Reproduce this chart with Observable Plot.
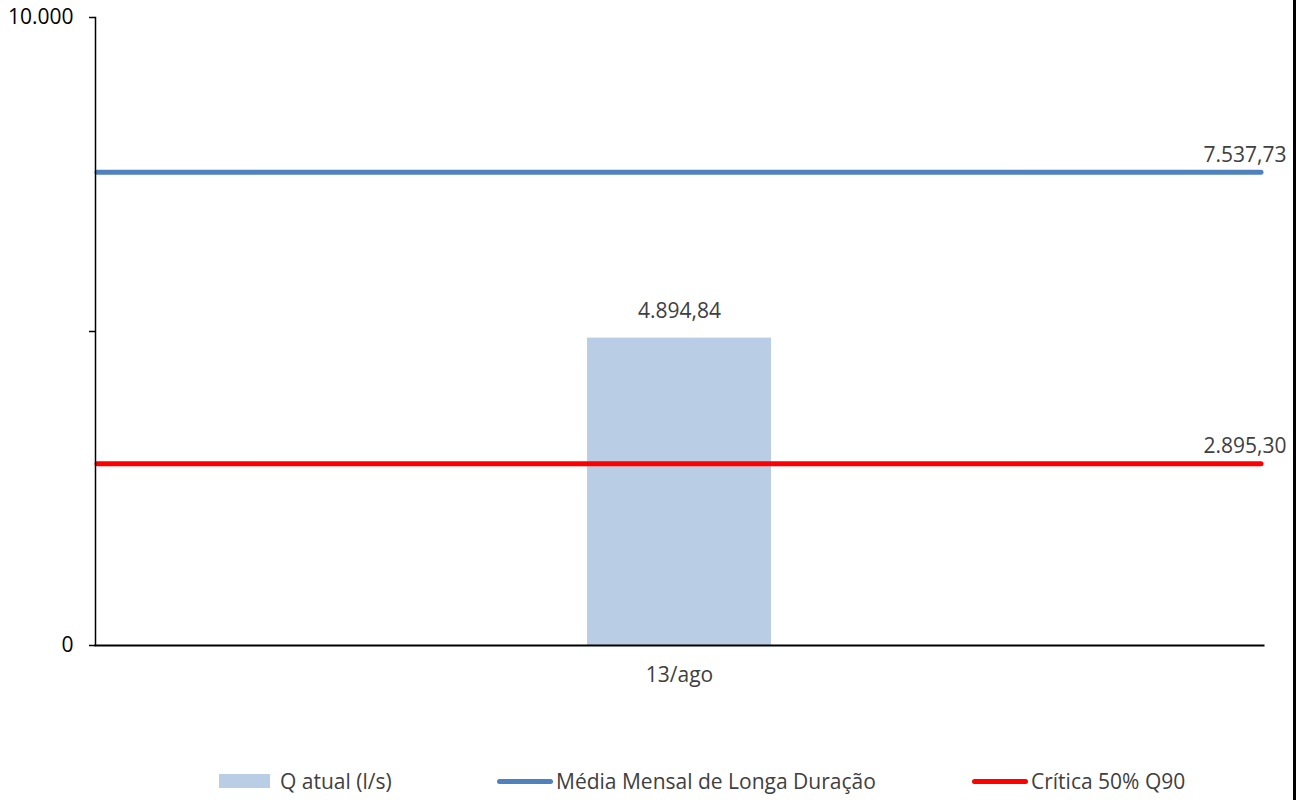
<!DOCTYPE html>
<html>
<head>
<meta charset="utf-8">
<script src="https://cdn.jsdelivr.net/npm/d3@7"></script>
<script src="https://cdn.jsdelivr.net/npm/@observablehq/plot@0.6"></script>
<style>
  html, body { margin: 0; padding: 0; background: #fff; }
  body { width: 1296px; height: 800px; position: relative; overflow: hidden; font-family: "Open Sans", Lato, sans-serif; }
  #chart { position: absolute; left: 0; top: 0; }
  #border { position: absolute; left: 1293px; top: 0; width: 3px; height: 800px; background: #000; }
  .legend { position: absolute; top: 768px; height: 26px; display: flex; align-items: center; font-size: 21px; color: #404040; white-space: nowrap; }
  .sw-rect { display: inline-block; width: 51px; height: 14px; background: #B9CDE5; margin-right: 10px; }
  .sw-line { display: inline-block; width: 56px; height: 5px; border-radius: 3px; margin-right: 3px; }
</style>
</head>
<body>
<div id="chart"></div>
<div id="border"></div>
<div class="legend" style="left:219px"><span class="sw-rect"></span><span id="lg0"></span></div>
<div class="legend" style="left:497px"><span class="sw-line" style="background:#4F81BD"></span><span id="lg1"></span></div>
<div class="legend" style="left:972px"><span class="sw-line" style="background:#FF0000"></span><span id="lg2"></span></div>
<script>
const categories = ["13/ago"];
const qAtual = [4894.84];
const mediaMensal = [7537.73];
const critica = [2895.30];
const seriesNames = ["Q atual (l/s)", "Média Mensal de Longa Duração", "Crítica 50% Q90"];
const yTicks = [0, 5000, 10000];
const yTickLabels = ["0", "", "10.000"];

const locale = d3.formatLocale({decimal: ",", thousands: ".", grouping: [3], currency: ["R$", ""]});
const fmt2 = locale.format(",.2f");

const bars = categories.map((c, i) => ({cat: c, value: qAtual[i]}));
const lines = [
  {value: mediaMensal[0], color: "#4F81BD"},
  {value: critica[0], color: "#FF0000"}
];
const yLabelData = yTicks.map((v, i) => ({v, label: yTickLabels[i]}));

document.getElementById("lg0").textContent = seriesNames[0];
document.getElementById("lg1").textContent = seriesNames[1];
document.getElementById("lg2").textContent = seriesNames[2];

const W = 1296, H = 700;
const FS = 21;
const chart = Plot.plot({
  width: W,
  height: H,
  marginLeft: 95,
  marginRight: 33,
  marginTop: 17,
  marginBottom: H - 645,
  style: {fontFamily: "'Open Sans', Lato, sans-serif", fontSize: FS + "px", background: "transparent"},
  x: {type: "band", domain: categories, padding: 0.728, label: null, axis: null},
  y: {domain: [0, 10000], label: null, axis: null},
  marks: [
    Plot.barY(bars, {x: "cat", y: "value", fill: "#B9CDE5"}),
    Plot.ruleY(lines, {y: "value", stroke: "color", strokeWidth: 5, strokeLinecap: "round", inset: 2}),
    Plot.text(lines, {y: "value", text: d => fmt2(d.value), frameAnchor: "right", textAnchor: "end", dx: 23, dy: -17, fill: "#404040", fontSize: FS}),
    Plot.text(bars, {x: "cat", y: "value", text: d => fmt2(d.value), dy: -27, fill: "#404040", fontSize: FS}),
    Plot.axisY({ticks: yTicks, tickFormat: () => "", tickSize: 6, stroke: "#000", strokeWidth: 1.5}),
    Plot.text(yLabelData, {y: "v", text: "label", frameAnchor: "left", textAnchor: "end", dx: -22, fill: "#000", fontSize: FS}),
    Plot.frame({anchor: "left", stroke: "#000", strokeWidth: 1.5}),
    Plot.axisX({tickSize: 0, tickPadding: 22, fill: "#404040", fontSize: FS}),
    Plot.frame({anchor: "bottom", stroke: "#000", strokeWidth: 2})
  ]
});
document.getElementById("chart").appendChild(chart);
</script>
</body>
</html>
